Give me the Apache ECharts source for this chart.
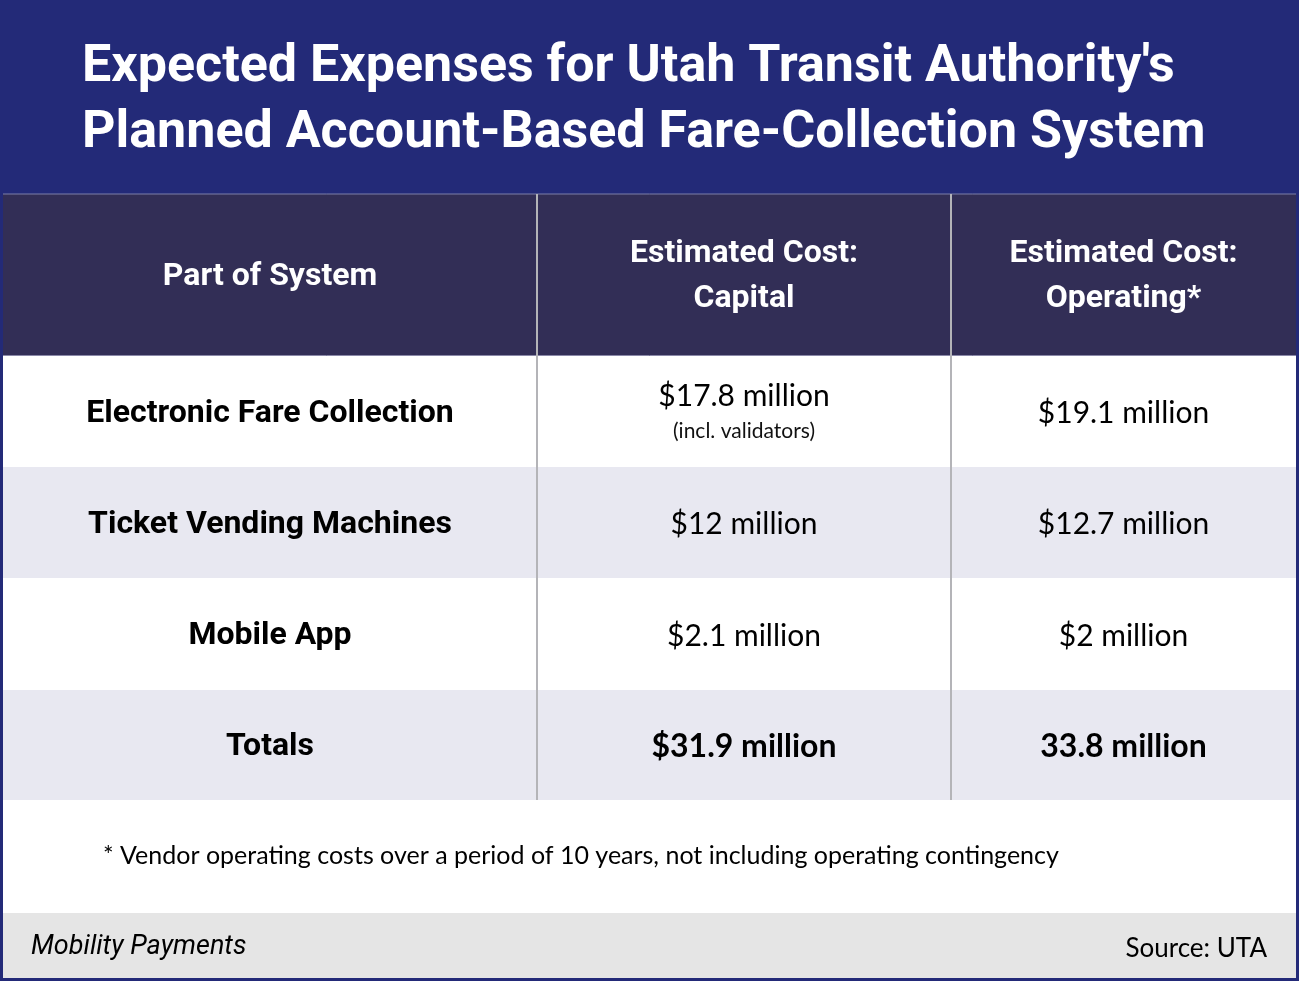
<!DOCTYPE html>
<html>
<head>
<meta charset="utf-8">
<script src="https://cdn.jsdelivr.net/npm/echarts@6/dist/echarts.min.js"></script>
<style>
  html, body { margin: 0; padding: 0; background: #fff; }
  #chart { width: 1299px; height: 981px; }
</style>
</head>
<body>
<div id="chart"></div>
<script>
// table content
const titleLines = [
  "Expected Expenses for Utah Transit Authority's",
  'Planned Account-Based Fare-Collection System',
]
const headers = [['Part of System'], ['Estimated Cost:', 'Capital'], ['Estimated Cost:', 'Operating*']]
const parts = ['Electronic Fare Collection', 'Ticket Vending Machines', 'Mobile App', 'Totals']
const capital = ['$17.8 million', '$12 million', '$2.1 million', '$31.9 million']
const capitalNotes = ['(incl. validators)', '', '', '']
const operating = ['$19.1 million', '$12.7 million', '$2 million', '33.8 million']
const footnote = '* Vendor operating costs over a period of 10 years, not including operating contingency'
const brand = 'Mobility Payments'
const source = 'Source: UTA'

const W = 1299, H = 981
const navy = '#232a78'
const headBg = '#322e56'
const stripe = '#e8e8f1'
const colX = [3, 537, 951, 1296]
const headTop = 194, headBot = 356
const rowTops = [356, 467, 578, 690, 800]
const footTop = 913

const boldFont = 'Roboto'
const bodyFont = 'Lato'

const g = []
// background
g.push({ type: 'rect', shape: { x: 0, y: 0, width: W, height: H }, style: { fill: navy } })
g.push({ type: 'rect', shape: { x: 3, y: headTop, width: W - 6, height: H - headTop - 3 }, style: { fill: '#fff' } })
// title
titleLines.forEach((t, i) => {
  g.push({ type: 'text', x: 82, y: 68 + i * 66,
    style: { text: t, fill: '#fff', font: '700 52px ' + boldFont, verticalAlign: 'middle', align: 'left' } })
})
// header row
g.push({ type: 'rect', shape: { x: 3, y: headTop, width: W - 6, height: headBot - headTop }, style: { fill: headBg } })
g.push({ type: 'line', shape: { x1: 3, y1: headTop, x2: W - 3, y2: headTop }, style: { stroke: '#7d7fa8', lineWidth: 1 } })
g.push({ type: 'line', shape: { x1: 3, y1: headBot - 0.5, x2: W - 3, y2: headBot - 0.5 }, style: { stroke: '#8a88a8', lineWidth: 1 } })
headers.forEach((lines, c) => {
  const cx = (colX[c] + colX[c + 1]) / 2
  const cy = lines.length === 1 ? 277 : 254
  lines.forEach((t, k) => {
    g.push({ type: 'text', x: cx, y: cy + k * 45,
      style: { text: t, fill: '#fff', font: '700 32px ' + boldFont, align: 'center', verticalAlign: 'middle' } })
  })
})
// body rows
parts.forEach((p, r) => {
  const y0 = rowTops[r], y1 = rowTops[r + 1]
  g.push({ type: 'rect', shape: { x: 3, y: y0, width: W - 6, height: y1 - y0 }, style: { fill: r % 2 ? stripe : '#fff' } })
  const cy = (y0 + y1) / 2 + 2
  const isTotal = r === parts.length - 1
  const valFont = isTotal ? '700 32px ' + bodyFont : '400 30px ' + bodyFont
  g.push({ type: 'text', x: (colX[0] + colX[1]) / 2, y: cy,
    style: { text: p, fill: '#000', font: '700 32px ' + boldFont, align: 'center', verticalAlign: 'middle' } })
  const hasNote = capitalNotes[r] !== ''
  g.push({ type: 'text', x: (colX[1] + colX[2]) / 2, y: hasNote ? cy - 17 : cy,
    style: { text: capital[r], fill: '#000', font: valFont, align: 'center', verticalAlign: 'middle' } })
  if (hasNote) {
    g.push({ type: 'text', x: (colX[1] + colX[2]) / 2, y: cy + 18,
      style: { text: capitalNotes[r], fill: '#111', font: '400 21px ' + bodyFont, align: 'center', verticalAlign: 'middle' } })
  }
  g.push({ type: 'text', x: (colX[2] + colX[3]) / 2, y: cy,
    style: { text: operating[r], fill: '#000', font: valFont, align: 'center', verticalAlign: 'middle' } })
})
// column dividers
;[colX[1], colX[2]].forEach((x) => {
  g.push({ type: 'line', shape: { x1: x, y1: headTop, x2: x, y2: rowTops[rowTops.length - 1] }, style: { stroke: '#b4b4b8', lineWidth: 2 } })
})
// footnote
g.push({ type: 'text', x: 103, y: 856,
  style: { text: footnote, fill: '#000', font: '400 25px ' + bodyFont, align: 'left', verticalAlign: 'middle' } })
// footer band
g.push({ type: 'rect', shape: { x: 3, y: footTop, width: W - 6, height: H - footTop - 3 }, style: { fill: '#e5e5e5' } })
g.push({ type: 'text', x: 31, y: 947,
  style: { text: brand, fill: '#000', font: 'italic 400 27px ' + boldFont, align: 'left', verticalAlign: 'middle' } })
g.push({ type: 'text', x: 1267, y: 949,
  style: { text: source, fill: '#000', font: '400 26px ' + bodyFont, align: 'right', verticalAlign: 'middle' } })

const chart = echarts.init(document.getElementById('chart'), null, { renderer: 'canvas' })
chart.setOption({ animation: false, graphic: { elements: g } })
</script>
</body>
</html>
